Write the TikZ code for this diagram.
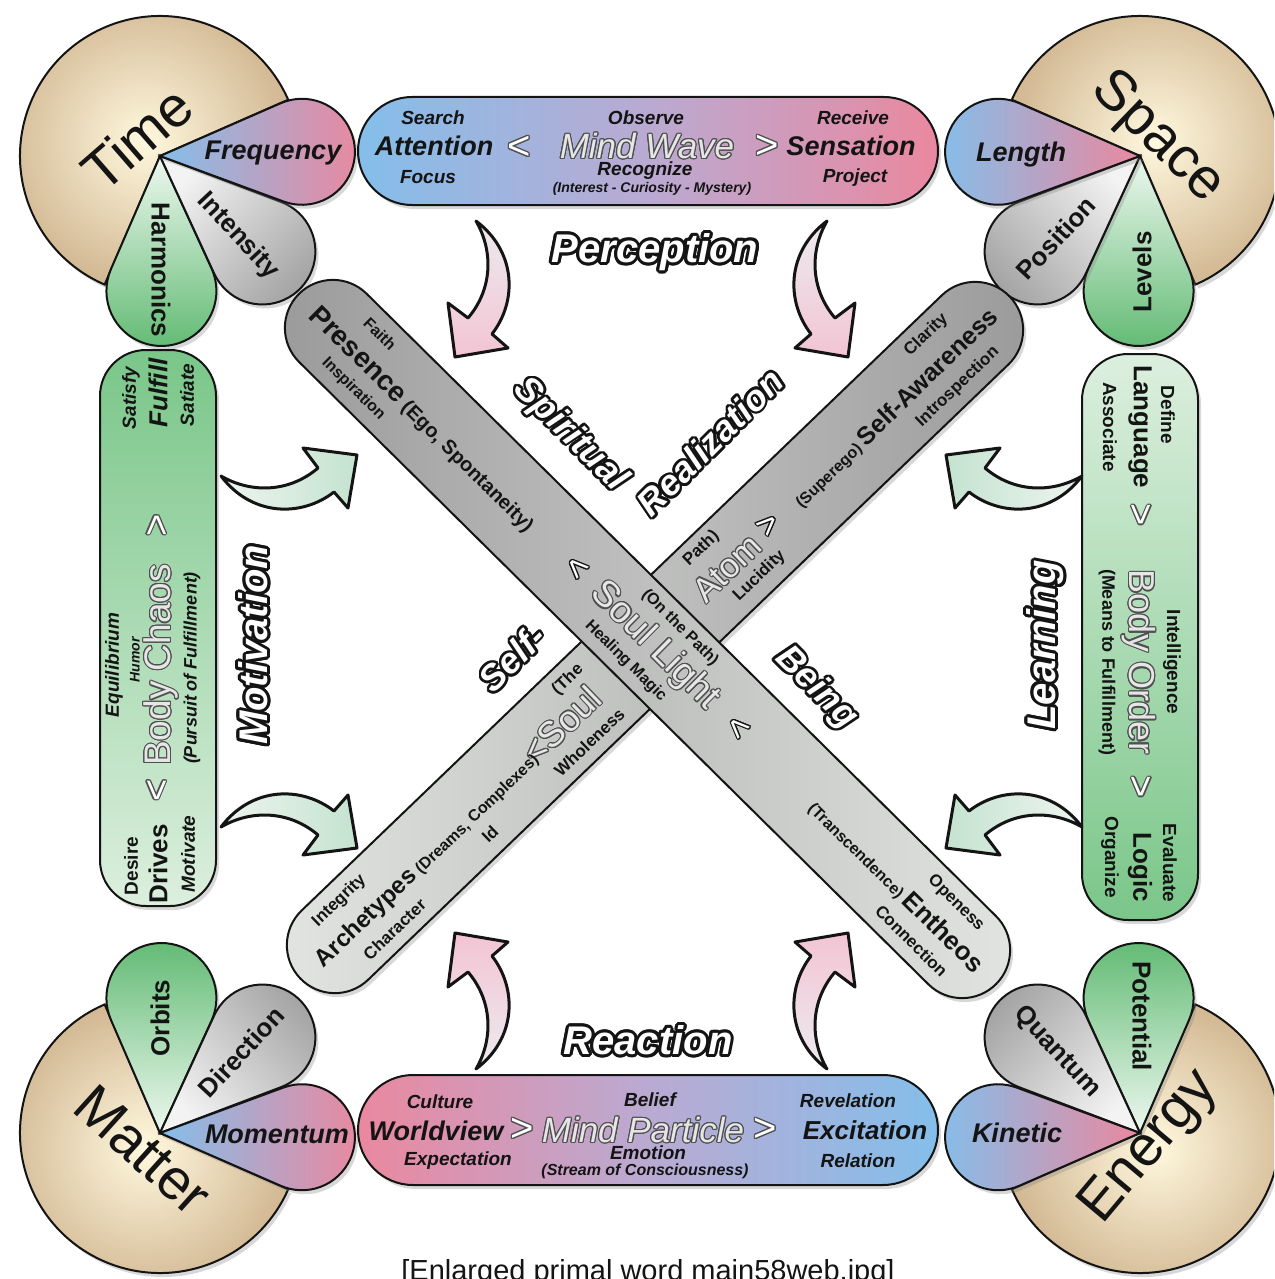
\documentclass[tikz,border=0pt]{standalone}
\usepackage{fontspec}
\setmainfont{Liberation Sans}
\usetikzlibrary{shapes.misc,shadows}
\definecolor{tanIn}{HTML}{FFF8DE}
\definecolor{tanOut}{HTML}{D3B994}
\definecolor{blueC}{HTML}{84BEEA}
\definecolor{pinkC}{HTML}{EA889F}
\definecolor{midC}{HTML}{BAAAD2}
\definecolor{greyEnd}{HTML}{A4A4A4}
\definecolor{greyApex}{HTML}{F3F3F3}
\definecolor{greenEnd}{HTML}{5FB971}
\definecolor{greenApex}{HTML}{EDF8EF}
\definecolor{sideDark}{HTML}{7AC689}
\definecolor{sideLight}{HTML}{DCEFDE}
\definecolor{barDark}{HTML}{9B9B9B}
\definecolor{barLight}{HTML}{E1E4E1}
\definecolor{arrPink}{HTML}{F3C4D3}
\definecolor{arrPale}{HTML}{ECEBEF}
\definecolor{arrMint}{HTML}{C4E3CF}
\definecolor{arrMintPale}{HTML}{EEF4F0}
\definecolor{ink}{HTML}{141414}
\definecolor{ghost}{HTML}{E6E6E6}
\definecolor{ghostline}{HTML}{505050}
\newcommand\fsz[1]{\fontsize{#1}{#1}\selectfont}
\newcommand\olt[4]{%
  \leavevmode\rlap{\color{#1}%
  \foreach \ox/\oy in {1000/0,924/383,707/707,383/924,0/1000,-383/924,-707/707,-924/383,-1000/0,-924/-383,-707/-707,-383/-924,0/-1000,383/-924,707/-707,924/-383}{%
    \rlap{\kern\dimexpr#3*\ox/1000\relax\raisebox{\dimexpr#3*\oy/1000\relax}{#4}}}}%
  \textcolor{#2}{#4}}
\newcommand\petal[5]{%
  \pgfmathsetmacro\pal{asin(#4/#3)}%
  \pgfmathsetmacro\ptl{#3*cos(\pal)}%
  \pgfmathsetmacro\psa{#2+\pal+90}%
  \pgfmathsetmacro\pea{#2-\pal-90}%
  \draw[#5] (#1) -- ++({#2+\pal}:\ptl) arc[start angle=\psa,end angle=\pea,radius=#4] -- cycle;}
\newcommand\fatarrow[2]{%
  \begin{scope}[cm={#1}]
  \draw[fatarr,#2] (476,-221) .. controls (517,-252) and (517,-302) .. (492,-334)
     -- (508,-348) -- (455,-357) -- (448,-303) -- (468,-318)
     .. controls (492,-290) and (494,-252) .. (476,-221) -- cycle;
  \end{scope}}
\begin{document}
\begin{tikzpicture}[x=1pt,y=1pt,
 outl/.style={draw=ink,line width=2pt,drop shadow={opacity=0.3,shadow xshift=3pt,shadow yshift=-4pt}},
 pie/.style={outl,inner color=tanIn,outer color=tanOut},
 bluepink/.style={outl,left color=blueC,right color=pinkC},
 greypet/.style={outl,top color=greyEnd,bottom color=greyApex},
 greenpet/.style={outl,top color=greenEnd,bottom color=greenApex},
 txt/.style={inner sep=0pt,text=ink},
 bi/.style={txt,font=\bfseries\itshape\fsz{#1}},
 bu/.style={txt,font=\bfseries\fsz{#1}},
 ri/.style={txt,font=\itshape\fsz{#1}},
 rr/.style={txt,font=\fsz{#1}},
 fatarr/.style={draw=ink,line width=3pt,line join=round}]
\useasboundingbox (0,0) rectangle (1274,-1279);
\fill[white] (0,0) rectangle (1274,-1279);
\clip (0,0) rectangle (1274,-1279);

% ---------- corner pies ----------
\coordinate (tA) at (160,-156);
\coordinate (sA) at (1140,-156);
\coordinate (mA) at (160,-1133);
\coordinate (eA) at (1140,-1133);
\draw[pie] (tA) -- ++(23.7:140) arc[start angle=23.7,end angle=246.7,radius=140] -- cycle;
\draw[pie] (sA) -- ++(-66.7:140) arc[start angle=-66.7,end angle=156.3,radius=140] -- cycle;
\draw[pie] (mA) -- ++(113.3:140) arc[start angle=113.3,end angle=336.3,radius=140] -- cycle;
\draw[pie] (eA) -- ++(-156.3:140) arc[start angle=-156.3,end angle=66.7,radius=140] -- cycle;

% ---------- petals ----------
\petal{tA}{-89.4}{135}{55}{greenpet,shading angle=-179.4}
\petal{tA}{-43}{140}{53}{greypet,shading angle=-133}
\petal{tA}{1.7}{142}{53}{bluepink}
\petal{sA}{-90.6}{135}{55}{greenpet,shading angle=-180.6}
\petal{sA}{-137}{140}{53}{greypet,shading angle=-227}
\petal{sA}{178.3}{142}{53}{bluepink}
\petal{mA}{89.4}{135}{55}{greenpet,shading angle=-0.6}
\petal{mA}{43}{140}{53}{greypet,shading angle=-47}
\petal{mA}{-1.7}{142}{53}{bluepink}
\petal{eA}{90.6}{135}{55}{greenpet,shading angle=0.6}
\petal{eA}{137}{140}{53}{greypet,shading angle=47}
\petal{eA}{181.7}{142}{53}{bluepink}

\node[rr=57,rotate=41] (time) at (137,-138) {Time};
\node[rr=57,rotate=-44] (space) at (1157,-138) {Space};
\node[rr=57,rotate=-42] (matter) at (143,-1150) {Matter};
\node[rr=57,rotate=50] (energy) at (1150,-1148) {Energy};

\node[bi=27] (freq) at (273,-153) {Frequency};
\node[bu=26,rotate=-47] (inten) at (238,-236) {Intensity};
\node[bu=26,rotate=-90] (harm) at (161,-270) {Harmonics};
\node[bi=27] (length) at (1021,-155) {Length};
\node[bu=26,rotate=47] (posit) at (1056,-238) {Position};
\node[bu=26,rotate=90] (levels) at (1142,-272) {Levels};
\node[bu=26,rotate=90] (orbits) at (160,-1018) {Orbits};
\node[bu=26,rotate=47] (direc) at (241,-1052) {Direction};
\node[bi=27] (moment) at (277,-1134) {Momentum};
\node[bu=26,rotate=-90] (potent) at (1142,-1016) {Potential};
\node[bu=26,rotate=-47] (quant) at (1057,-1052) {Quantum};
\node[bi=27] (kinetic) at (1017,-1133) {Kinetic};

% ---------- top and bottom bars ----------
\node[outl,rectangle,rounded corners=54pt,minimum width=580,minimum height=108,inner sep=0pt,
  left color=blueC,right color=pinkC,middle color=midC] (topbar) at (648,-151) {};
\node[outl,rectangle,rounded corners=55pt,minimum width=580,minimum height=110,inner sep=0pt,
  left color=pinkC,right color=blueC,middle color=midC] (botbar) at (648,-1130) {};

\node[bi=19] (search) at (433,-118) {Search};
\node[bi=27] (attention) at (434,-146) {Attention};
\node[bi=19] (focus) at (428,-177) {Focus};
\node[rr=40] (tblt) at (519,-148) {\olt{ghostline}{white}{1.2pt}{<}};
\node[bi=19] (observe) at (646,-118) {Observe};
\node[ri=35] (mindwave) at (647,-146) {\olt{ghostline}{ghost}{1.2pt}{Mind Wave}};
\node[bi=19] (recog) at (645,-171) {Recognize};
\node[bi=14] (interest) at (652,-189) {(Interest - Curiosity - Mystery)};
\node[rr=40] (tbgt) at (767,-147) {\olt{ghostline}{white}{1.2pt}{>}};
\node[bi=19] (receive) at (853,-118) {Receive};
\node[bi=27] (sensation) at (851,-146) {Sensation};
\node[bi=19] (project) at (855,-178) {Project};

\node[bi=19] (culture) at (440,-1102) {Culture};
\node[bi=27] (worldview) at (436,-1131) {Worldview};
\node[bi=19] (expect) at (458,-1161) {Expectation};
\node[rr=40] (bbgt1) at (522,-1130) {\olt{ghostline}{white}{1.2pt}{>}};
\node[bi=19] (belief) at (650,-1100) {Belief};
\node[ri=35] (mindpart) at (643,-1130) {\olt{ghostline}{ghost}{1.2pt}{Mind Particle}};
\node[bi=19] (emotion) at (648,-1153) {Emotion};
\node[bi=16] (stream) at (645,-1171) {(Stream of Consciousness)};
\node[rr=40] (bbgt2) at (765,-1130) {\olt{ghostline}{white}{1.2pt}{>}};
\node[bi=19] (revel) at (848,-1101) {Revelation};
\node[bi=26] (excit) at (865,-1130) {Excitation};
\node[bi=19] (relat) at (858,-1161) {Relation};

% ---------- side bars ----------
\node[outl,rectangle,rounded corners=46pt,minimum width=116,minimum height=556,inner sep=0pt,
  top color=sideDark,bottom color=sideLight] (leftbar) at (158,-628) {};
\node[outl,rectangle,rounded corners=46pt,minimum width=116,minimum height=566,inner sep=0pt,
  top color=sideLight,bottom color=sideDark] (rightbar) at (1140,-637) {};

\begin{scope}[shift={(158,-628)},rotate=90,transform shape]
\node[bi=19] (satisfy) at (230,27) {Satisfy};
\node[bi=26] (fulfill) at (235,0) {Fulfill};
\node[bi=19] (satiate) at (233,-29) {Satiate};
\node[rr=38] (lbgt) at (103,0) {\olt{ghostline}{white}{1.1pt}{>}};
\node[bi=19] (equil) at (-37,44) {Equilibrium};
\node[bi=14] (humor) at (-32,23) {Humor};
\node[rr=37] (bodychaos) at (-37,-3) {\olt{ghostline}{ghost}{1.1pt}{Body Chaos}};
\node[bi=18] (pursuit) at (-40,-34) {(Pursuit of Fulfillment)};
\node[rr=38] (lblt) at (-162,0) {\olt{ghostline}{white}{1.1pt}{<}};
\node[bu=19] (desire) at (-238,27) {Desire};
\node[bu=26] (drives) at (-236,0) {Drives};
\node[bi=19] (motivate) at (-226,-30) {Motivate};
\end{scope}

\begin{scope}[shift={(1140,-637)},rotate=-90,transform shape]
\node[bu=19] (define) at (-222,28) {Define};
\node[bu=26] (language) at (-210,0) {Language};
\node[bu=19] (associate) at (-210,-30) {Associate};
\node[rr=38] (rbgt1) at (-122,0) {\olt{ghostline}{white}{1.1pt}{>}};
\node[bu=19] (intel) at (25,32) {Intelligence};
\node[rr=36] (bodyorder) at (25,-1) {\olt{ghostline}{ghost}{1.1pt}{Body Order}};
\node[bu=18] (means) at (25,-33) {(Means to Fulfillment)};
\node[rr=38] (rbgt2) at (150,0) {\olt{ghostline}{white}{1.1pt}{>}};
\node[bu=19] (evaluate) at (226,30) {Evaluate};
\node[bu=26] (logic) at (230,0) {Logic};
\node[bu=19] (organize) at (220,-30) {Organize};
\end{scope}

% ---------- diagonal bars ----------
\node[outl,rounded rectangle,minimum width=984,minimum height=96,inner sep=0pt,rotate=43.86,
  left color=barLight,right color=barDark] (sabar) at (655,-637.5) {};
\begin{scope}[shift={(655,-637.5)},rotate=43.86,transform shape]
\node[bu=17] (clarity) at (405,30) {Clarity};
\node[bu=25,anchor=base east] (selfaw) at (470,-9) {\fsz{16}(Superego) \fsz{25}Self-Awareness};
\node[bu=17] (introsp) at (392,-29) {Introspection};
\node[bu=17] (pathr) at (95,32) {Path)};
\node[rr=34] (atom) at (100,0) {\olt{ghostline}{ghost}{1.1pt}{Atom}};
\node[rr=34] (sagt) at (160,2) {\olt{ink}{white}{1.1pt}{>}};
\node[bu=17] (lucid) at (118,-28) {Lucidity};
\node[bu=17] (thel) at (-92,30) {(The};
\node[rr=36] (soul) at (-128,2) {\olt{ghostline}{ghost}{1.1pt}{<Soul}};
\node[bu=17] (whole) at (-120,-30) {Wholeness};
\node[bu=24,anchor=base west] (arche) at (-468,-9) {Archetypes\fsz{16} (Dreams, Complexes)};
\node[bu=17] (idn) at (-255,-27) {Id};
\node[bu=17] (integ) at (-410,29) {Integrity};
\node[bu=17] (charac) at (-390,-30) {Character};
\end{scope}

\node[outl,rounded rectangle,minimum width=981,minimum height=96,inner sep=0pt,rotate=-44.68,
  left color=barDark,right color=barLight] (psbar) at (647.5,-639) {};
\begin{scope}[shift={(647.5,-639)},rotate=-44.68,transform shape]
\node[bu=16] (faith) at (-405,29) {Faith};
\node[bu=28,anchor=base west] (presence) at (-468,-10) {Presence\fsz{20} (Ego, Spontaneity)};
\node[bu=16] (inspir) at (-385,-29) {Inspiration};
\node[rr=34] (pslt1) at (-100,0) {\olt{ink}{white}{1.1pt}{<}};
\node[bu=16] (onpath) at (15,31) {(On the Path)};
\node[rr=37] (soullight) at (10,0) {\olt{ghostline}{ghost}{1.1pt}{Soul Light}};
\node[bu=16] (healing) at (0,-31) {Healing Magic};
\node[rr=34] (pslt2) at (127,0) {\olt{ink}{white}{1.1pt}{<}};
\node[bu=26,anchor=base east] (entheos) at (468,-9) {\fsz{16}(Transcendence) \fsz{26}Entheos};
\node[bu=17] (openess) at (405,29) {Openess};
\node[bu=17] (connect) at (400,-29) {Connection};
\end{scope}

% ---------- curved arrows ----------
\fatarrow{1,0,0,1,(0,0)}{top color=arrPale,bottom color=arrPink}
\fatarrow{-1,0,0,1,(1303,0)}{top color=arrPale,bottom color=arrPink}
\fatarrow{1,0,0,-1,(0,-1290)}{top color=arrPink,bottom color=arrPale}
\fatarrow{-1,0,0,-1,(1303,-1290)}{top color=arrPink,bottom color=arrPale}
\fatarrow{0,-1,-1,0,(0,0)}{left color=arrMintPale,right color=arrMint}
\fatarrow{0,1,-1,0,(0,-1303)}{left color=arrMintPale,right color=arrMint}
\fatarrow{0,-1,1,0,(1303,0)}{left color=arrMint,right color=arrMintPale}
\fatarrow{0,1,1,0,(1303,-1303)}{left color=arrMint,right color=arrMintPale}

% ---------- outlined labels ----------
\node[bi=40] (percep) at (655,-252) {\olt{ink}{white}{3pt}{Perception}};
\node[bi=40] (react) at (648,-1040) {\olt{ink}{white}{3pt}{Reaction}};
\node[bi=40,rotate=90] (motiv) at (253,-645) {\olt{ink}{white}{3pt}{Motivation}};
\node[bi=40,rotate=90] (learn) at (1045,-645) {\olt{ink}{white}{3pt}{Learning}};
\node[bi=36,rotate=-45] (spiritual) at (570,-435) {\olt{ink}{white}{2.5pt}{Spiritual}};
\node[bi=36,rotate=45] (realiz) at (710,-442) {\olt{ink}{white}{2.5pt}{Realization}};
\node[bi=36,rotate=45] (selfl) at (512,-658) {\olt{ink}{white}{2.5pt}{Self-}};
\node[bi=36,rotate=-45] (being) at (816,-688) {\olt{ink}{white}{2.5pt}{Being}};

\node[rr=29,anchor=base] (caption) at (648,-1280) {[Enlarged primal word main58web.jpg]};
\end{tikzpicture}
\end{document}
